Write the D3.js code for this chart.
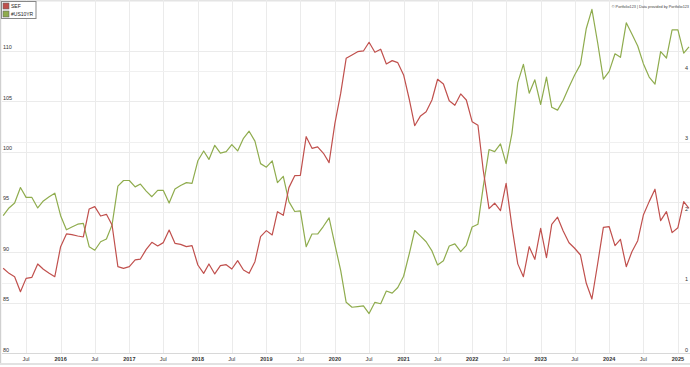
<!DOCTYPE html>
<html>
<head>
<meta charset="utf-8">
<script src="https://cdn.jsdelivr.net/npm/d3@7"></script>
<style>
  html, body { margin: 0; padding: 0; background: #fff; }
  svg { display: block; font-family: "Liberation Sans", Arial, sans-serif; }
</style>
</head>
<body>
<div id="chart"></div>
<script>
// monthly points, Mar 2015 .. Mar 2025
const firstMonth = new Date(2015, 2, 1);
const lastMonth = new Date(2025, 2, 1);

const sef = [
    88.41, 87.91, 87.58, 86.09, 87.41, 87.51, 88.84, 88.31, 87.91, 87.58,
    90.56, 91.82, 91.75, 91.62, 91.52, 94.30, 94.53, 93.60, 93.77, 92.71, 88.57, 88.41,
    88.57, 89.24, 89.33, 90.29, 90.99, 90.63, 90.96, 92.21, 90.89, 90.79, 90.56, 90.66,
    88.74, 87.91, 88.84, 87.85, 88.67, 88.77, 88.34, 89.17, 88.24, 87.91, 89.07, 91.55,
    92.15, 91.72, 94.03, 93.67, 96.42, 97.61, 97.64, 101.48, 100.32, 100.46, 99.83, 98.90,
    102.8, 105.8, 109.26, 109.59, 109.92, 109.99, 110.85, 109.86, 110.16, 108.70, 109.03, 108.83,
    107.61, 105.12, 102.57, 103.54, 103.96, 105.12, 107.18, 106.71, 105.05, 104.60, 105.72, 105.12,
    102.97, 102.61, 98.17, 94.33, 94.87, 94.13, 96.85, 92.54, 88.85, 87.58, 90.56, 89.30,
    92.38, 89.46, 92.78, 93.48, 92.12, 90.95, 90.40, 89.73, 86.92, 85.36, 88.91, 92.48,
    92.54, 90.66, 91.29, 88.57, 90.06, 91.15, 93.70, 95.03, 96.26, 93.14, 94.03, 91.95,
    92.44, 95.03, 94.37
];

const us10yr = [
    1.95, 2.06, 2.13, 2.35, 2.21, 2.21, 2.06, 2.16, 2.22, 2.27,
    1.95, 1.75, 1.79, 1.83, 1.84, 1.51, 1.46, 1.58, 1.62, 1.82, 2.37, 2.45,
    2.45, 2.36, 2.40, 2.30, 2.22, 2.31, 2.31, 2.13, 2.33, 2.38, 2.42, 2.41,
    2.73, 2.87, 2.75, 2.95, 2.84, 2.86, 2.96, 2.87, 3.05, 3.15, 3.01, 2.69,
    2.64, 2.73, 2.42, 2.51, 2.15, 2.01, 2.02, 1.51, 1.69, 1.69, 1.80, 1.92,
    1.54, 1.17, 0.72, 0.65, 0.66, 0.67, 0.56, 0.72, 0.70, 0.88, 0.85, 0.93,
    1.09, 1.42, 1.74, 1.66, 1.58, 1.45, 1.25, 1.31, 1.52, 1.55, 1.44, 1.53,
    1.79, 1.83, 2.36, 2.89, 2.86, 2.97, 2.69, 3.12, 3.84, 4.10, 3.69, 3.88,
    3.53, 3.92, 3.49, 3.45, 3.59, 3.78, 3.95, 4.10, 4.61, 4.88, 4.40, 3.89,
    4.00, 4.25, 4.20, 4.69, 4.53, 4.36, 4.11, 3.92, 3.82, 4.28, 4.19, 4.59,
    4.59, 4.26, 4.35
];

const leftTicks = [80, 85, 90, 95, 100, 105, 110];
const rightTicks = [0, 1, 2, 3, 4];
const seriesNames = ["SEF", "#US10YR"];
const colors = ["#c0504d", "#8fac4e"];
const credits = "\u00a9 Portfolio123 | Data provided by Portfolio123";

const width = 690, height = 367;
const plot = { left: 2, right: 690, top: 0, bottom: 353 };

const months = d3.timeMonth.range(firstMonth, d3.timeMonth.offset(lastMonth, 1));

const x = d3.scaleTime()
    .domain([new Date(2015, 0, 1), new Date(2025, 0, 1)])
    .range([-7.9, 677.9]);
const yLeft = d3.scaleLinear().domain([80, 115]).range([plot.bottom, 0.5]);
const yRight = d3.scaleLinear().domain([0, 5]).range([plot.bottom, 1]);

const svg = d3.select("#chart").append("svg")
    .attr("width", width).attr("height", height);

// frame bits
svg.append("rect").attr("x", 0).attr("y", 0).attr("width", width).attr("height", height).attr("fill", "#fff");
svg.append("rect").attr("x", 0).attr("y", 0).attr("width", 640).attr("height", 1.5).attr("fill", "#e4e4e4");
svg.append("rect").attr("x", 0).attr("y", 0).attr("width", 1.2).attr("height", 364).attr("fill", "#d0d0d0");
svg.append("rect").attr("x", 0).attr("y", 363).attr("width", width).attr("height", 2).attr("fill", "#e2e2e2");

svg.append("clipPath").attr("id", "clip").append("rect")
    .attr("x", plot.left).attr("y", plot.top)
    .attr("width", plot.right - plot.left).attr("height", plot.bottom - plot.top);

// grid
const xTicks = d3.timeMonth.every(6).range(new Date(2015, 6, 1), new Date(2025, 1, 1));
const grid = svg.append("g").attr("stroke", "#ebebeb").attr("stroke-width", 1);
grid.selectAll("line.v").data(xTicks).enter().append("line")
    .attr("x1", d => Math.round(x(d)) + 0.5).attr("x2", d => Math.round(x(d)) + 0.5)
    .attr("y1", plot.top).attr("y2", plot.bottom);
grid.selectAll("line.hl").data(leftTicks).enter().append("line")
    .attr("x1", plot.left).attr("x2", plot.right)
    .attr("y1", d => Math.round(yLeft(d)) + 0.5).attr("y2", d => Math.round(yLeft(d)) + 0.5);
grid.selectAll("line.hr").data(rightTicks).enter().append("line")
    .attr("x1", plot.left).attr("x2", plot.right)
    .attr("stroke", "#f0f0f0")
    .attr("y1", d => Math.round(yRight(d)) + 0.5).attr("y2", d => Math.round(yRight(d)) + 0.5);

svg.append("line").attr("x1", plot.left).attr("x2", plot.right)
    .attr("y1", plot.bottom + 0.5).attr("y2", plot.bottom + 0.5)
    .attr("stroke", "#d8d8d8");

// lines
const lineLeft = d3.line().x((d, i) => x(months[i])).y(d => yLeft(d));
const lineRight = d3.line().x((d, i) => x(months[i])).y(d => yRight(d));

const lines = svg.append("g").attr("clip-path", "url(#clip)").attr("fill", "none")
    .attr("stroke-width", 1.2).attr("stroke-linejoin", "round");
lines.append("path").datum(us10yr).attr("d", lineRight).attr("stroke", colors[1]);
lines.append("path").datum(sef).attr("d", lineLeft).attr("stroke", colors[0]);

// axis labels
svg.append("g").selectAll("text").data(leftTicks).enter().append("text")
    .attr("x", 3).attr("y", d => yLeft(d) - 1.5)
    .attr("font-size", 5.5).attr("fill", "#333")
    .text(d => d);

svg.append("g").selectAll("text").data(rightTicks).enter().append("text")
    .attr("x", 688).attr("y", d => yRight(d) - 1.5)
    .attr("text-anchor", "end")
    .attr("font-size", 5.5).attr("fill", "#333")
    .text(d => d);

svg.append("g").selectAll("text").data(xTicks).enter().append("text")
    .attr("x", d => x(d)).attr("y", 361)
    .attr("text-anchor", "middle")
    .attr("font-size", 5.5).attr("fill", "#333")
    .attr("font-weight", d => d.getMonth() === 0 ? "bold" : "normal")
    .text(d => d.getMonth() === 0 ? d.getFullYear() : "Jul");

// legend
const legend = svg.append("g");
legend.append("rect").attr("x", 1.5).attr("y", 1.5).attr("width", 34.5).attr("height", 17)
    .attr("fill", "#fff").attr("stroke", "#888").attr("stroke-width", 1);
const item = legend.selectAll("g").data(seriesNames).enter().append("g")
    .attr("transform", (d, i) => `translate(3,${3 + i * 8})`);
item.append("rect").attr("width", 6).attr("height", 6)
    .attr("fill", (d, i) => colors[i]).attr("stroke", "#666").attr("stroke-width", 0.6);
item.append("text").attr("x", 8).attr("y", 5)
    .attr("font-size", 5).attr("fill", "#222")
    .text(d => d);

svg.append("text").attr("x", 689).attr("y", 7.5)
    .attr("text-anchor", "end").attr("font-size", 3.8).attr("fill", "#444")
    .text(credits);
</script>
</body>
</html>
